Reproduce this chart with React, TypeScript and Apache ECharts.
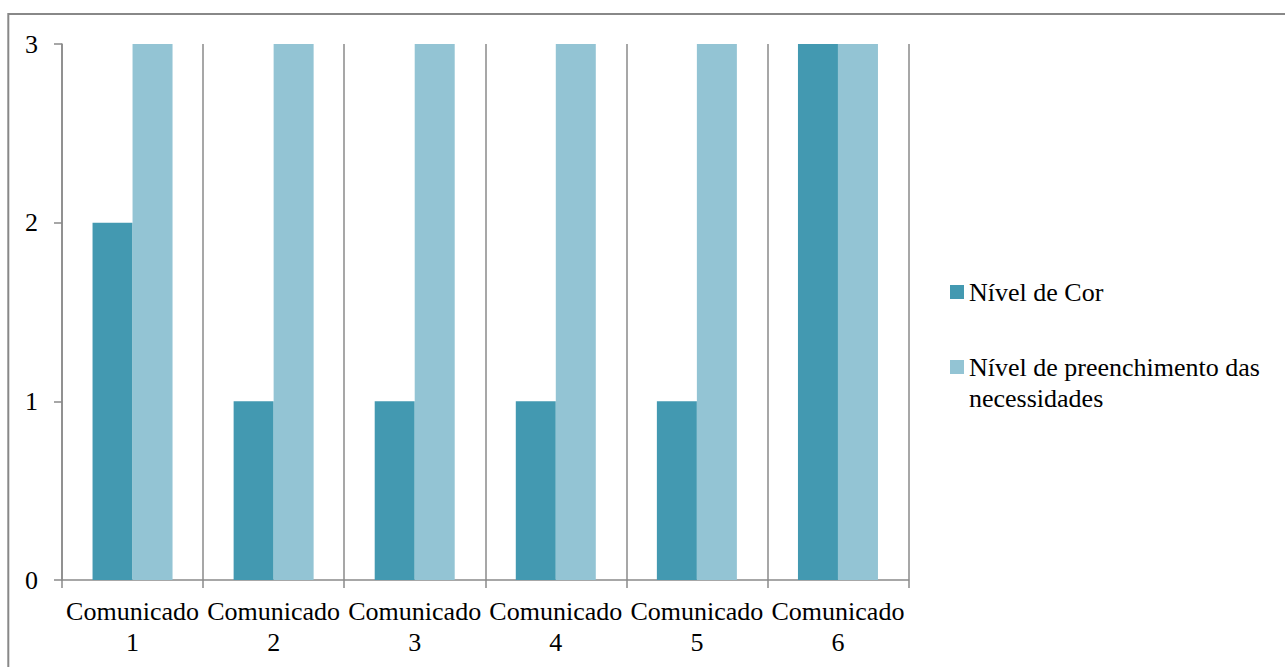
import React, { useEffect, useRef } from "react";
import * as echarts from "echarts";

const categories = ["Comunicado 1", "Comunicado 2", "Comunicado 3", "Comunicado 4", "Comunicado 5", "Comunicado 6"];
const seriesNames = ["Nível de Cor", "Nível de preenchimento das necessidades"];
const nivelCor = [2, 1, 1, 1, 1, 3];
const nivelPreenchimento = [3, 3, 3, 3, 3, 3];
const yTicks = [0, 1, 2, 3];

const FONT = "Liberation Serif";
const LINE = "#8a8a8a";

const tok = { fontFamily: FONT, fontSize: 26, color: "#000", lineHeight: 31 };

export default function App() {
  const ref = useRef<HTMLDivElement>(null);
  useEffect(() => {
    if (!ref.current) return;
    const chart = echarts.init(ref.current, undefined, { renderer: "svg" });
    chart.setOption({
      animation: false,
      backgroundColor: "#ffffff",
      textStyle: { fontFamily: FONT },
      grid: { left: 62, right: 376.5, top: 44, bottom: 87, containLabel: false },
      graphic: [
        {
          type: "rect",
          z: -10,
          silent: true,
          shape: { x: 8.3, y: 14, width: 1400, height: 800 },
          style: { fill: "none", stroke: "#888888", lineWidth: 2 },
        },
      ],
      legend: [
        {
          orient: "vertical",
          left: 950,
          top: 276.5,
          padding: 0,
          itemWidth: 14,
          itemHeight: 14,
          icon: "rect",
          selectedMode: false,
          data: [seriesNames[0]],
          textStyle: { fontFamily: FONT, fontSize: 26, color: "#000", lineHeight: 31 },
        },
        {
          orient: "vertical",
          left: 950,
          top: 320.5,
          padding: 0,
          itemWidth: 14,
          itemHeight: 14,
          icon: "rect",
          selectedMode: false,
          data: [seriesNames[1]],
          formatter: (n: string) => {
            const i = n.indexOf(" das ") + 4;
            return "{e| }\n{a|" + n.slice(0, i) + "}\n{a|" + n.slice(i + 1) + "}";
          },
          textStyle: {
            fontFamily: FONT,
            fontSize: 26,
            color: "#000",
            lineHeight: 31,
            rich: { a: tok, e: tok },
          },
        },
      ],
      xAxis: {
        type: "category",
        data: categories,
        boundaryGap: true,
        axisLine: { show: true, lineStyle: { color: LINE, width: 1.5 } },
        axisTick: { show: true, interval: 0, length: 8, lineStyle: { color: LINE, width: 1.5 } },
        splitLine: { show: true, interval: 0, lineStyle: { color: LINE, width: 1.5 } },
        axisLabel: {
          interval: 0,
          margin: 16,
          fontFamily: FONT,
          fontSize: 26,
          lineHeight: 31,
          color: "#000",
          formatter: (v: string) => v.replace(" ", "\n"),
        },
      },
      yAxis: {
        type: "value",
        min: yTicks[0],
        max: yTicks[yTicks.length - 1],
        interval: 1,
        axisLine: { show: true, lineStyle: { color: LINE, width: 1.5 } },
        axisTick: { show: true, length: 8, lineStyle: { color: LINE, width: 1.5 } },
        splitLine: { show: false },
        axisLabel: { margin: 24, fontFamily: FONT, fontSize: 26, color: "#000" },
      },
      series: [
        {
          name: seriesNames[0],
          type: "bar",
          data: nivelCor,
          barWidth: 40,
          barGap: "0%",
          itemStyle: { color: "#4399B1" },
        },
        {
          name: seriesNames[1],
          type: "bar",
          data: nivelPreenchimento,
          barWidth: 40,
          barGap: "0%",
          itemStyle: { color: "#93C4D4" },
        },
      ],
    });
    return () => chart.dispose();
  }, []);
  return (
    <div
      ref={ref}
      style={{ position: "fixed", left: 0, top: 0, width: 1285, height: 667 }}
    />
  );
}
